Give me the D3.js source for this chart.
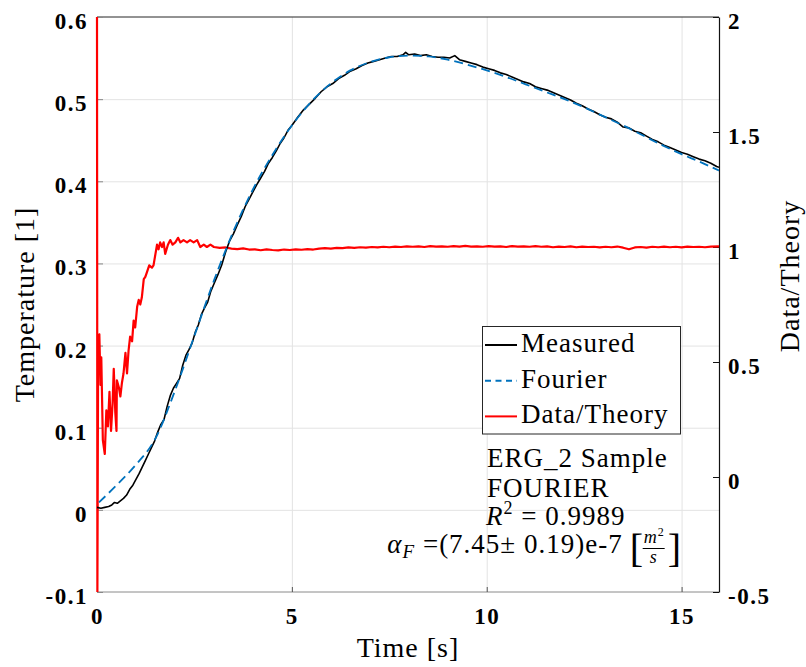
<!DOCTYPE html>
<html>
<head>
<meta charset="utf-8">
<script src="https://cdn.jsdelivr.net/npm/d3@7"></script>
<style>
  html, body { margin: 0; padding: 0; background: #fff; }
  svg { display: block; }
</style>
</head>
<body>
<svg id="chart" width="806" height="667"></svg>
<script>
// ---- data ----
const measuredTime = [0.00,0.10,0.20,0.30,0.38,0.45,0.52,0.60,0.68,0.76,0.84,0.92,1.00,1.08,1.16,1.24,1.32,1.40,1.48,1.56,1.64,1.72,1.80,1.88,1.96,2.04,2.12,2.20,2.28,2.36,2.44,2.52,2.60,2.68,2.76,2.84,2.92,3.00,3.10,3.20,3.30,3.40,3.50,3.60,3.70,3.80,3.90,4.00,4.10,4.20,4.30,4.40,4.50,4.60,4.70,4.80,4.90,5.00,5.15,5.30,5.45,5.60,5.75,5.90,6.05,6.20,6.35,6.50,6.65,6.80,6.95,7.10,7.25,7.40,7.55,7.70,7.85,7.92,8.00,8.15,8.30,8.45,8.60,8.75,8.90,9.05,9.18,9.30,9.45,9.60,9.75,9.90,10.05,10.20,10.35,10.50,10.65,10.80,10.95,11.10,11.25,11.40,11.55,11.70,11.85,12.00,12.15,12.30,12.45,12.60,12.75,12.90,13.05,13.20,13.35,13.50,13.65,13.80,13.95,14.10,14.25,14.40,14.55,14.70,14.85,15.00,15.15,15.30,15.45,15.60,15.75,15.90,15.96];
const measuredTemp = [0.003,0.002,0.003,0.004,0.006,0.009,0.008,0.011,0.014,0.018,0.025,0.030,0.037,0.044,0.052,0.060,0.068,0.076,0.084,0.095,0.104,0.110,0.126,0.139,0.148,0.154,0.160,0.176,0.188,0.195,0.203,0.216,0.225,0.238,0.246,0.253,0.266,0.275,0.286,0.298,0.314,0.327,0.336,0.347,0.357,0.369,0.378,0.387,0.396,0.404,0.412,0.422,0.429,0.437,0.446,0.453,0.462,0.468,0.478,0.487,0.494,0.501,0.509,0.515,0.519,0.525,0.529,0.534,0.537,0.541,0.544,0.546,0.548,0.550,0.552,0.552,0.554,0.557,0.554,0.555,0.553,0.554,0.552,0.551,0.551,0.550,0.553,0.548,0.546,0.544,0.542,0.539,0.537,0.535,0.532,0.530,0.527,0.524,0.521,0.519,0.515,0.513,0.511,0.508,0.505,0.502,0.499,0.495,0.492,0.488,0.485,0.481,0.478,0.476,0.472,0.466,0.465,0.461,0.459,0.455,0.451,0.448,0.444,0.441,0.438,0.435,0.433,0.430,0.427,0.425,0.422,0.418,0.417];

const fourierTime = [0.05,0.5,1.0,1.5,2.0,2.5,3.0,3.5,4.0,4.5,5.0,5.5,6.0,6.5,7.0,7.5,8.0,8.5,9.0,9.5,10.0,10.5,11.0,11.5,12.0,12.5,13.0,13.5,14.0,14.5,15.0,15.5,15.96];
const fourierTemp = [0.009,0.030,0.055,0.087,0.145,0.212,0.279,0.339,0.390,0.432,0.468,0.497,0.519,0.535,0.545,0.551,0.553,0.552,0.548,0.542,0.535,0.527,0.518,0.509,0.500,0.490,0.479,0.468,0.456,0.444,0.433,0.423,0.413];

const ratioTime = [0.00,0.01,0.03,0.06,0.09,0.11,0.15,0.20,0.24,0.28,0.32,0.36,0.40,0.43,0.47,0.50,0.51,0.56,0.60,0.64,0.68,0.73,0.77,0.81,0.85,0.90,0.94,0.98,1.03,1.07,1.11,1.15,1.20,1.24,1.28,1.34,1.41,1.45,1.50,1.54,1.58,1.62,1.67,1.71,1.75,1.82,1.88,1.94,2.01,2.08,2.14,2.22,2.31,2.39,2.48,2.57,2.65,2.74,2.82,2.91,3.00,3.15,3.30,3.45,3.60,3.75,3.90,4.05,4.20,4.35,4.50,4.65,4.80,4.95,5.10,5.25,5.40,5.55,5.70,5.85,6.00,6.15,6.30,6.45,6.60,6.75,6.90,7.05,7.20,7.35,7.50,7.65,7.80,7.95,8.10,8.25,8.40,8.55,8.70,8.85,9.00,9.15,9.30,9.45,9.60,9.75,9.90,10.05,10.20,10.35,10.50,10.65,10.80,10.95,11.10,11.25,11.40,11.55,11.70,11.85,12.00,12.15,12.30,12.45,12.60,12.75,12.90,13.05,13.20,13.35,13.50,13.65,13.80,13.95,14.10,14.25,14.40,14.55,14.70,14.85,15.00,15.15,15.30,15.45,15.60,15.75,15.96];
const ratioValue = [2.0,-0.5,0.60,0.62,0.40,0.52,0.16,0.10,0.29,0.22,0.37,0.20,0.32,0.47,0.28,0.20,0.42,0.39,0.35,0.41,0.45,0.54,0.45,0.55,0.61,0.59,0.68,0.65,0.74,0.77,0.75,0.78,0.86,0.87,0.89,0.92,0.91,0.92,0.97,1.01,0.99,1.02,1.00,1.02,0.97,1.01,1.03,1.01,1.02,1.04,1.02,1.03,1.02,1.03,1.02,1.03,1.00,1.01,1.00,1.01,1.000,0.996,0.998,0.993,0.991,0.994,0.989,0.990,0.986,0.990,0.987,0.985,0.989,0.987,0.990,0.988,0.991,0.989,0.993,0.995,0.993,0.996,0.995,0.998,0.996,0.999,0.997,1.000,0.998,1.001,0.999,1.002,1.000,1.003,1.001,1.003,1.000,1.004,1.002,1.003,1.001,1.004,1.002,1.005,1.002,1.003,1.001,1.004,1.002,1.003,1.000,1.004,1.002,1.003,1.001,1.004,1.001,1.003,0.999,1.002,1.000,1.003,0.999,1.002,1.000,1.001,0.998,1.001,0.999,1.002,0.997,0.990,0.998,1.000,0.997,1.001,0.999,1.002,0.999,1.001,0.998,1.002,1.000,1.001,0.999,1.002,1.003];

const xTicks = [0, 5, 10, 15];
const leftTicks = [-0.1, 0, 0.1, 0.2, 0.3, 0.4, 0.5, 0.6];
const leftTickLabels = ["-0.1", "0", "0.1", "0.2", "0.3", "0.4", "0.5", "0.6"];
const rightTicks = [-0.5, 0, 0.5, 1, 1.5, 2];
const rightTickLabels = ["-0.5", "0", "0.5", "1", "1.5", "2"];

const seriesNames = ["Measured", "Fourier", "Data/Theory"];
const infoLines = ["ERG_2 Sample", "FOURIER"];

// ---- layout ----
const svg = d3.select("#chart");
const margin = {top: 17, right: 87, bottom: 75, left: 97};
const width = 806, height = 667;
const innerWidth = width - margin.left - margin.right;
const innerHeight = height - margin.top - margin.bottom;
const serif = "'Liberation Serif', 'Times New Roman', serif";

const xScale = d3.scaleLinear().domain([0, 15.96]).range([margin.left, margin.left + innerWidth]);
const yLeft = d3.scaleLinear().domain([-0.1, 0.6]).range([margin.top + innerHeight, margin.top]);
const yRight = d3.scaleLinear().domain([-0.5, 2]).range([margin.top + innerHeight, margin.top]);

// clip a touch wider on the left so the red spike at t = 0 shows full width
svg.append("defs").append("clipPath").attr("id", "plotclip")
    .append("rect")
    .attr("x", margin.left - 2).attr("y", margin.top)
    .attr("width", innerWidth + 2).attr("height", innerHeight);

// grid
svg.append("g")
    .attr("transform", `translate(0,${margin.top + innerHeight})`)
    .call(d3.axisBottom(xScale).tickValues(xTicks.slice(1)).tickSize(-innerHeight).tickFormat(""))
    .call(g => g.select(".domain").remove())
    .call(g => g.selectAll("line").attr("stroke", "#e3e3e3").attr("stroke-width", 1));
svg.append("g")
    .attr("transform", `translate(${margin.left},0)`)
    .call(d3.axisLeft(yLeft).tickValues(leftTicks.slice(1, -1)).tickSize(-innerWidth).tickFormat(""))
    .call(g => g.select(".domain").remove())
    .call(g => g.selectAll("line").attr("stroke", "#e3e3e3").attr("stroke-width", 1));

// box
svg.append("line").attr("x1", margin.left).attr("x2", margin.left + innerWidth)
    .attr("y1", margin.top).attr("y2", margin.top).attr("stroke", "#262626");
svg.append("line").attr("x1", margin.left).attr("x2", margin.left + innerWidth)
    .attr("y1", margin.top + innerHeight).attr("y2", margin.top + innerHeight).attr("stroke", "#8a8a8a");

// axes
let tickFont = g => g.selectAll("text")
    .attr("font-family", serif).attr("font-size", 23).attr("font-weight", "bold")
    .attr("letter-spacing", "1.5px").attr("fill", "#000");

svg.append("g")
    .attr("transform", `translate(0,${margin.top + innerHeight})`)
    .call(d3.axisBottom(xScale).tickValues(xTicks).tickSizeInner(-5).tickSizeOuter(0).tickPadding(16).tickFormat(d3.format("d")))
    .call(g => g.select(".domain").remove())
    .call(g => g.selectAll("line").attr("stroke", "#555"))
    .call(tickFont);

svg.append("g")
    .attr("transform", `translate(${margin.left},0)`)
    .call(d3.axisLeft(yLeft).tickValues(leftTicks).tickSizeInner(-6).tickSizeOuter(0).tickPadding(9)
        .tickFormat((d, i) => leftTickLabels[i]))
    .call(g => g.select(".domain").remove())
    .call(g => g.selectAll("line").attr("stroke", "#888"))
    .call(tickFont)
    .call(g => g.selectAll("text").attr("dy", "0.5em"));

svg.append("g")
    .attr("transform", `translate(${margin.left + innerWidth},0)`)
    .call(d3.axisRight(yRight).tickValues(rightTicks).tickSizeInner(-6).tickSizeOuter(0).tickPadding(9)
        .tickFormat((d, i) => rightTickLabels[i]))
    .call(g => g.select(".domain").attr("stroke", "#111").attr("stroke-width", 1.2))
    .call(g => g.selectAll("line").attr("stroke", "#111"))
    .call(tickFont)
    .call(g => g.selectAll("text").attr("dy", "0.5em"));

// axis titles
svg.append("text")
    .attr("transform", `translate(34,${margin.top + innerHeight / 2}) rotate(-90)`)
    .attr("text-anchor", "middle").attr("font-family", serif).attr("font-size", 28)
    .attr("letter-spacing", "1px").text("Temperature [1]");
svg.append("text")
    .attr("transform", `translate(799,276) rotate(-90)`)
    .attr("text-anchor", "middle").attr("font-family", serif).attr("font-size", 28)
    .attr("letter-spacing", "1px").text("Data/Theory");
svg.append("text")
    .attr("x", margin.left + innerWidth / 2).attr("y", 657)
    .attr("text-anchor", "middle").attr("font-family", serif).attr("font-size", 28)
    .attr("letter-spacing", "1px").text("Time [s]");

// lines
const plot = svg.append("g").attr("clip-path", "url(#plotclip)");

let ratioLine = d3.line()
    .x((d, i) => xScale(ratioTime[i]))
    .y(d => yRight(d));
let tempLine = times => d3.line()
    .x((d, i) => xScale(times[i]))
    .y(d => yLeft(d));

plot.append("path")
    .datum(ratioValue)
    .attr("fill", "none")
    .attr("stroke", "#ff0000")
    .attr("stroke-width", 2.2)
    .attr("stroke-linejoin", "round")
    .attr("d", ratioLine);

plot.append("path")
    .datum(measuredTemp)
    .attr("fill", "none")
    .attr("stroke", "#000")
    .attr("stroke-width", 1.6)
    .attr("stroke-linejoin", "round")
    .attr("d", tempLine(measuredTime));

plot.append("path")
    .datum(fourierTemp)
    .attr("fill", "none")
    .attr("stroke", "#0072bd")
    .attr("stroke-width", 1.8)
    .attr("stroke-dasharray", "9,5")
    .attr("d", d3.line().curve(d3.curveMonotoneX).x((d, i) => xScale(fourierTime[i])).y(d => yLeft(d)));

// legend
const legend = svg.append("g");
legend.append("rect")
    .attr("x", 482.5).attr("y", 326.5).attr("width", 198).attr("height", 107.5)
    .attr("fill", "#fff").attr("stroke", "#262626").attr("stroke-width", 1);
const legendStyle = [
    {color: "#000", dash: null},
    {color: "#0072bd", dash: "6,4.5"},
    {color: "#ff0000", dash: null}
];
seriesNames.forEach((name, i) => {
    let base = 352 + i * 35.7;
    legend.append("line")
        .attr("x1", 485).attr("x2", 517).attr("y1", base - 7).attr("y2", base - 7)
        .attr("stroke", legendStyle[i].color).attr("stroke-width", 2)
        .attr("stroke-dasharray", legendStyle[i].dash);
    legend.append("text")
        .attr("x", 521).attr("y", base)
        .attr("font-family", serif).attr("font-size", 27).attr("letter-spacing", "1px")
        .text(name);
});

// annotation
const note = svg.append("g").attr("font-family", serif).attr("font-size", 27).attr("fill", "#000");
infoLines.forEach((t, i) => {
    note.append("text").attr("x", 487).attr("y", 467 + i * 30).attr("letter-spacing", "1px").text(t);
});
let r2 = note.append("text").attr("x", 486).attr("y", 525).attr("letter-spacing", "1px");
r2.append("tspan").attr("font-style", "italic").text("R");
r2.append("tspan").attr("font-size", 18).attr("dy", -11).text("2");
r2.append("tspan").attr("dy", 11).text(" = 0.9989");

// alpha line, right end at x = 681
let alpha = note.append("text").attr("y", 553).attr("letter-spacing", "1px");
alpha.append("tspan").attr("font-style", "italic").text("α");
alpha.append("tspan").attr("font-style", "italic").attr("font-size", 19).attr("dy", 5).text("F");
alpha.append("tspan").attr("dy", -5).text(" =(7.45± 0.19)e-7");
let fracG = note.append("g");
fracG.append("text").attr("x", 0).attr("y", 562).attr("font-size", 40).text("[");
fracG.append("text").attr("x", 14).attr("y", 543).attr("font-size", 18).attr("font-style", "italic").text("m");
fracG.append("text").attr("x", 28).attr("y", 536).attr("font-size", 12).text("2");
fracG.append("line").attr("x1", 13).attr("x2", 35).attr("y1", 548.5).attr("y2", 548.5).attr("stroke", "#000").attr("stroke-width", 1);
fracG.append("text").attr("x", 20).attr("y", 563).attr("font-size", 18).attr("font-style", "italic").text("s");
fracG.append("text").attr("x", 38).attr("y", 562).attr("font-size", 40).text("]");
const fracW = fracG.node().getBBox().width;
const alphaW = alpha.node().getComputedTextLength();
const fracX = 681 - fracW;
fracG.attr("transform", `translate(${fracX},0)`);
alpha.attr("x", fracX - alphaW - 7);
</script>
</body>
</html>
